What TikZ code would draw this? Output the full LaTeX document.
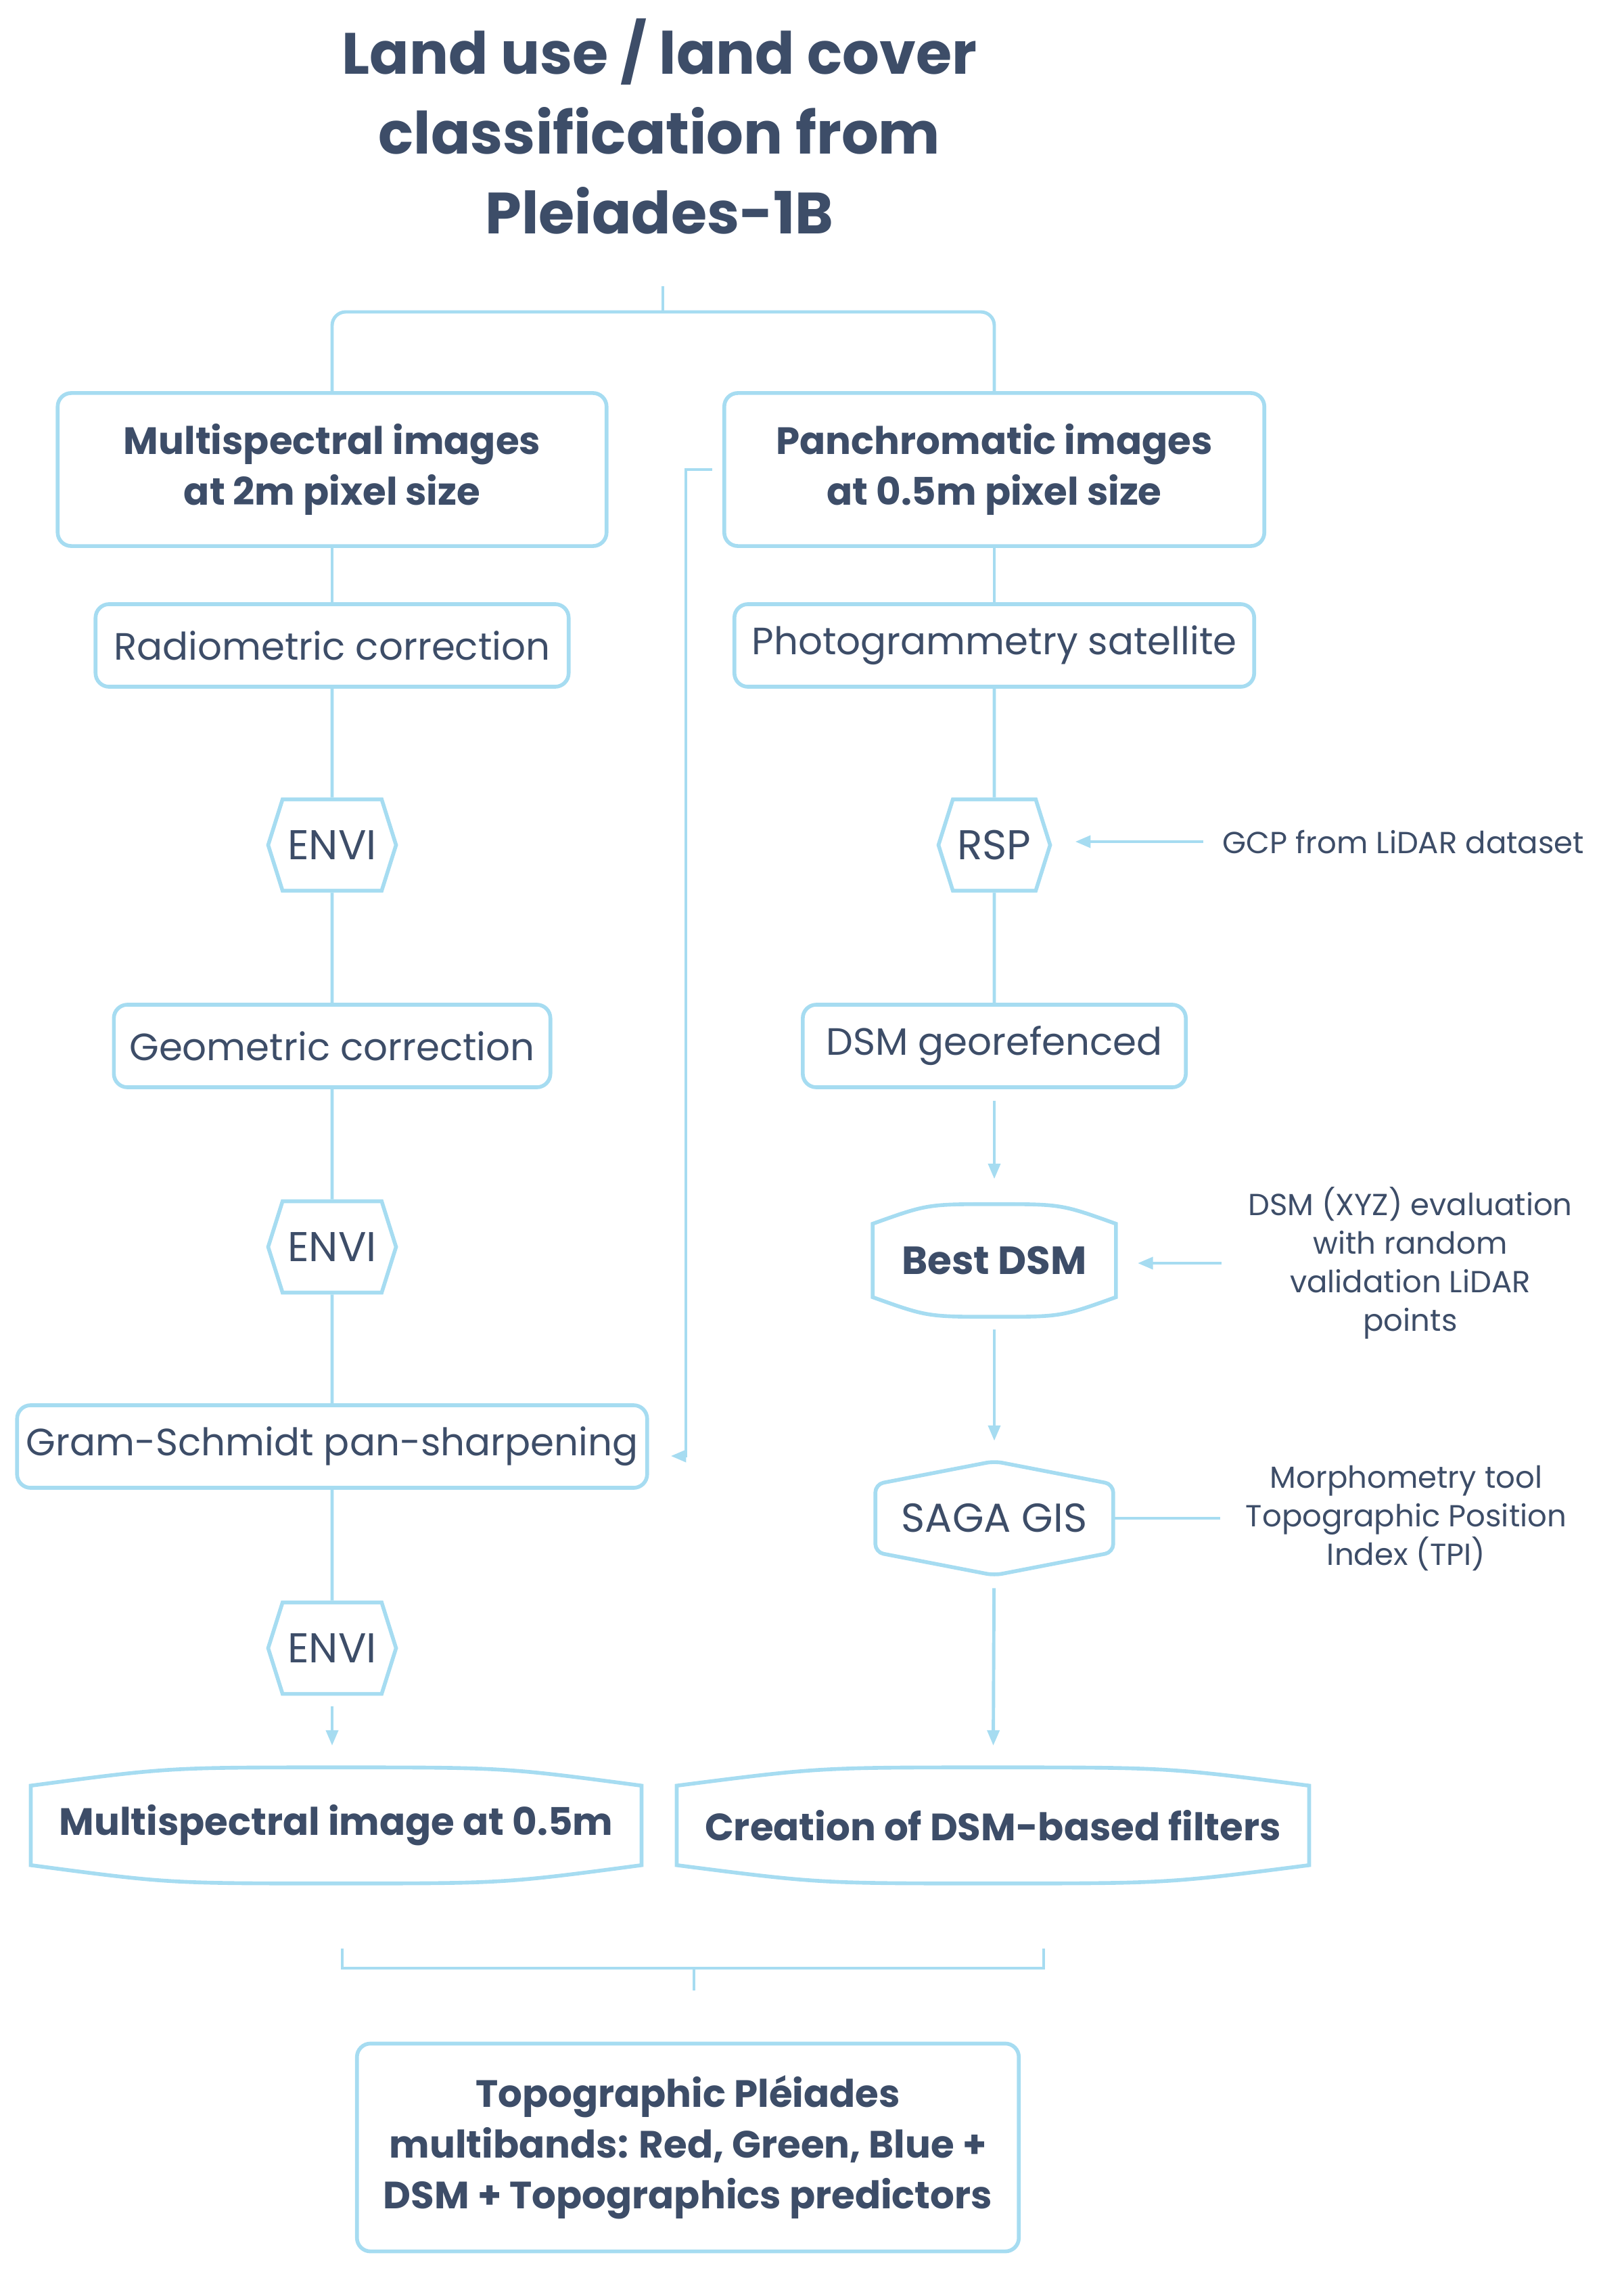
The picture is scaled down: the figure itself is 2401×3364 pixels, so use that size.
\documentclass[tikz,border=0pt]{standalone}
\usepackage{fontspec}
\setmainfont{Poppins}
\usetikzlibrary{shapes,arrows.meta,positioning,calc}

\definecolor{linkblue}{HTML}{A6DCF1}
\definecolor{inkslate}{HTML}{3D4D68}

\newcommand{\bulgeframe}[2]{%
  \draw[frame] (#1.north) .. controls ($(#1.north)!0.55!(#1.north west)$) .. ($(#1.north west)+(0,#2)$)
    -- ($(#1.south west)+(0,-#2)$) .. controls ($(#1.south)!0.55!(#1.south west)$) .. (#1.south)
    .. controls ($(#1.south)!0.55!(#1.south east)$) .. ($(#1.south east)+(0,-#2)$)
    -- ($(#1.north east)+(0,#2)$) .. controls ($(#1.north)!0.55!(#1.north east)$) .. (#1.north);}
\newcommand{\peakframe}[2]{%
  \draw[frame, rounded corners=0.12cm] (#1.north) -- ($(#1.north west)+(0,#2)$) -- ($(#1.south west)+(0,-#2)$)
    -- (#1.south) -- ($(#1.south east)+(0,-#2)$) -- ($(#1.north east)+(0,#2)$) -- cycle;}

\begin{document}
\begin{tikzpicture}[x=0.01cm, y=-0.01cm,
    every node/.style={text=inkslate, font=\fontsize{16}{20}\selectfont},
    txt/.style={align=center, inner sep=0pt},
    bold/.style={font=\fontsize{16}{21.3}\selectfont\bfseries},
    note/.style={txt, font=\fontsize{12.8}{16.2}\selectfont},
    box/.style={rectangle, rounded corners=0.2cm, draw=linkblue, line width=1.6pt, align=center, inner sep=0pt},
    hexa/.style={signal, signal to=west and east, signal pointer angle=145, draw=linkblue, line width=1.6pt,
      minimum width=1.89cm, minimum height=1.35cm, inner sep=0pt, font=\fontsize{17.5}{20}\selectfont},
    frame/.style={draw=linkblue, line width=1.6pt},
    link/.style={draw=linkblue, line width=1.4pt},
    arr/.style={link, -{Triangle[length=6.5pt, width=5pt]}}]
  \useasboundingbox (0,0) rectangle (2401,3364);

  \node[txt, font=\fontsize{24.5}{33.5}\selectfont\bfseries] (title) at (975,187)
    {Land use / land cover\\classification from\\Pleiades-1B};

  \node[box, bold, minimum width=8.11cm, minimum height=2.26cm] (ms) at (491,694) {Multispectral images\\at 2m pixel size};
  \node[box, bold, minimum width=7.98cm, minimum height=2.26cm] (pan) at (1470,694) {Panchromatic images\\at 0.5m pixel size};

  \node[box, minimum width=6.99cm, minimum height=1.22cm] (rad) at (491,954) {Radiometric correction};
  \node[box, minimum width=7.68cm, minimum height=1.22cm] (photo) at (1470,954) {Photogrammetry satellite};

  \node[hexa] (envi1) at (491,1249) {ENVI};
  \node[hexa, minimum width=1.65cm] (rsp) at (1470,1249) {RSP};

  \node[box, minimum width=6.45cm, minimum height=1.22cm] (geo) at (491,1546) {Geometric correction};
  \node[box, minimum width=5.66cm, minimum height=1.22cm] (dsmg) at (1470,1546) {DSM georefenced};

  \node[hexa] (envi2) at (491,1843) {ENVI};
  \node[txt, bold, minimum width=3.58cm, minimum height=1.65cm, font=\fontsize{16.5}{20}\selectfont\bfseries] (best) at (1470,1863) {Best DSM};
  \bulgeframe{best}{29}

  \node[box, minimum width=9.31cm, minimum height=1.22cm] (gram) at (491,2138) {Gram-Schmidt pan-sharpening};
  \node[txt, minimum width=3.5cm, minimum height=1.67cm, font=\fontsize{17}{20}\selectfont] (saga) at (1470,2244) {SAGA GIS};
  \peakframe{saga}{34}

  \node[hexa] (envi3) at (491,2436) {ENVI};

  \node[txt, bold, minimum width=9.01cm, minimum height=1.70cm] (msout) at (497,2698) {Multispectral image at 0.5m};
  \bulgeframe{msout}{27}
  \node[txt, bold, minimum width=9.33cm, minimum height=1.70cm] (filters) at (1468,2698) {Creation of DSM-based filters};
  \bulgeframe{filters}{27}

  \node[note] (gcp) at (2075,1244) {GCP from LiDAR dataset};
  \node[note] (eval) at (2085,1867) {DSM (XYZ) evaluation\\with random\\validation LiDAR\\points};
  \node[note] (morph) at (2079,2244) {Morphometry tool\\Topographic Position\\Index (TPI)};

  \node[box, bold, minimum width=9.78cm, minimum height=3.07cm] (final) at (1017,3174)
    {Topographic Pléiades\\multibands: Red, Green, Blue +\\DSM + Topographics predictors};

  \coordinate (fork) at (980,461);
  \draw[link] (fork) -- ++(0,-38);
  \draw[link, rounded corners=0.2cm] (ms.north) |- (fork) -| (pan.north);

  \foreach \a/\b in {ms/rad, rad/envi1, envi1/geo, geo/envi2, envi2/gram, gram/envi3, pan/photo, photo/rsp, rsp/dsmg}
    \draw[link] (\a) -- (\b);

  \draw[arr, shorten <=0.16cm, shorten >=0.32cm] (envi3.south) -- (envi3.south |- msout.north);
  \draw[arr, shorten <=0.17cm, shorten >=0.37cm] (dsmg) -- (best);
  \draw[arr, shorten <=0.19cm, shorten >=0.30cm] (best) -- (saga);
  \draw[arr, shorten <=0.19cm, shorten >=0.32cm] (saga) -- (filters);
  \draw[arr, shorten >=0.32cm] ([xshift=-0.15cm]pan.west) -- ++(-39,0) |- ([yshift=-0.14cm]gram.east);

  \draw[arr, shorten <=0.28cm, shorten >=0.34cm] (gcp.west) -- (gcp.west -| rsp.east);
  \draw[arr, shorten <=0.39cm, shorten >=0.32cm] (eval.west) -- (eval.west -| best.east);
  \draw[link, shorten <=0.37cm] (morph.west) -- (saga.east);

  \coordinate (jl) at (506,2880);
  \coordinate (jr) at (1543,2880);
  \coordinate (jm) at (1026,2909);
  \draw[link] (jl) |- (jm) -| (jr);
  \draw[link] (jm) -- ++(0,33);
\end{tikzpicture}
\end{document}
